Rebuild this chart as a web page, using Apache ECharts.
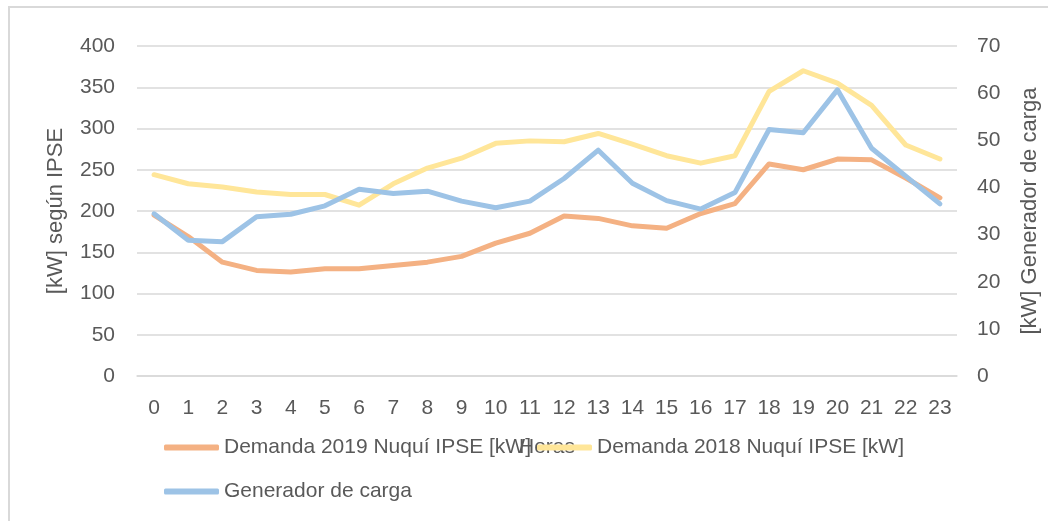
<!DOCTYPE html>
<html>
<head>
<meta charset="utf-8">
<script src="https://cdn.jsdelivr.net/npm/echarts@6/dist/echarts.min.js"></script>
<style>
html,body{margin:0;padding:0;background:#fff;}
#c{width:1048px;height:521px;}
</style>
</head>
<body>
<div id="c"></div>
<script>
const hours = ['0','1','2','3','4','5','6','7','8','9','10','11','12','13','14','15','16','17','18','19','20','21','22','23'];
const demanda2019 = [195,169,138,128,126,130,130,134,138,145,161,173,194,191,182,179,197,209,257,250,263,262,240,216];
const demanda2018 = [244,233,229,223,220,220,207,233,252,264,282,285,284,294,281,267,258,267,345,370,355,328,280,263];
const generador = [34.4,28.8,28.5,33.8,34.3,36.1,39.6,38.7,39.2,37.1,35.7,37.1,41.9,47.9,40.9,37.2,35.4,38.9,52.3,51.6,60.7,48.3,42.4,36.5];
const leftTicks = {min:0, max:400, interval:50};
const rightTicks = {min:0, max:70, interval:10};

const names = ['Demanda 2019 Nuquí IPSE [kW]','Demanda 2018 Nuquí IPSE [kW]','Generador de carga'];
const colors = ['#F4B183','#FFE699','#9DC3E6'];
const FONT = 'Liberation Sans';
const TXT = '#595959';
const legendBase = {
  orient:'horizontal', icon:'roundRect', itemWidth:55, itemHeight:6, itemGap:10, padding:0,
  textStyle:{fontFamily:FONT, fontSize:21, color:TXT}
};

const chart = echarts.init(document.getElementById('c'), null, {renderer:'canvas'});
chart.setOption({
  animation:false,
  backgroundColor:'#fff',
  color: colors,
  graphic:[{type:'rect', shape:{x:9,y:7,width:1100,height:600}, style:{fill:'none', stroke:'#d9d9d9', lineWidth:2}, silent:true}],
  grid:{left:137, right:91, top:46, bottom:145, containLabel:false, outerBoundsMode:'none'},
  legend:[
    Object.assign({}, legendBase, {data:[names[0]], left:164, top:437}),
    Object.assign({}, legendBase, {data:[names[1]], left:537, top:437}),
    Object.assign({}, legendBase, {data:[names[2]], left:164, top:481})
  ],
  xAxis:{
    type:'category', data:hours, boundaryGap:true,
    name:'Horas', nameLocation:'middle', nameGap:61,
    nameTextStyle:{fontFamily:FONT, fontSize:21, color:TXT},
    axisLine:{show:true, lineStyle:{color:'#d9d9d9', width:1.5}},
    axisTick:{show:false},
    axisLabel:{fontFamily:FONT, fontSize:21, color:TXT, margin:22, interval:0}
  },
  yAxis:[
    {type:'value', min:leftTicks.min, max:leftTicks.max, interval:leftTicks.interval,
     name:'[kW] según IPSE', nameLocation:'middle', nameGap:70, nameRotate:90,
     nameTextStyle:{fontFamily:FONT, fontSize:22, color:TXT},
     axisLine:{show:false}, axisTick:{show:false},
     axisLabel:{fontFamily:FONT, fontSize:21, color:TXT, margin:22},
     splitLine:{show:true, lineStyle:{color:'#d9d9d9', width:1.5}}},
    {type:'value', min:rightTicks.min, max:rightTicks.max, interval:rightTicks.interval, position:'right',
     name:'[kW] Generador de carga', nameLocation:'middle', nameGap:62, nameRotate:90,
     nameTextStyle:{fontFamily:FONT, fontSize:22, color:TXT},
     axisLine:{show:false}, axisTick:{show:false},
     axisLabel:{fontFamily:FONT, fontSize:21, color:TXT, margin:20},
     splitLine:{show:false}}
  ],
  series:[
    {name:names[0], type:'line', yAxisIndex:0, data:demanda2019, symbol:'none', lineStyle:{width:5, color:colors[0], cap:'round', join:'round'}, itemStyle:{color:colors[0]}},
    {name:names[1], type:'line', yAxisIndex:0, data:demanda2018, symbol:'none', lineStyle:{width:5, color:colors[1], cap:'round', join:'round'}, itemStyle:{color:colors[1]}},
    {name:names[2], type:'line', yAxisIndex:1, data:generador, symbol:'none', lineStyle:{width:5, color:colors[2], cap:'round', join:'round'}, itemStyle:{color:colors[2]}}
  ]
});
</script>
</body>
</html>
